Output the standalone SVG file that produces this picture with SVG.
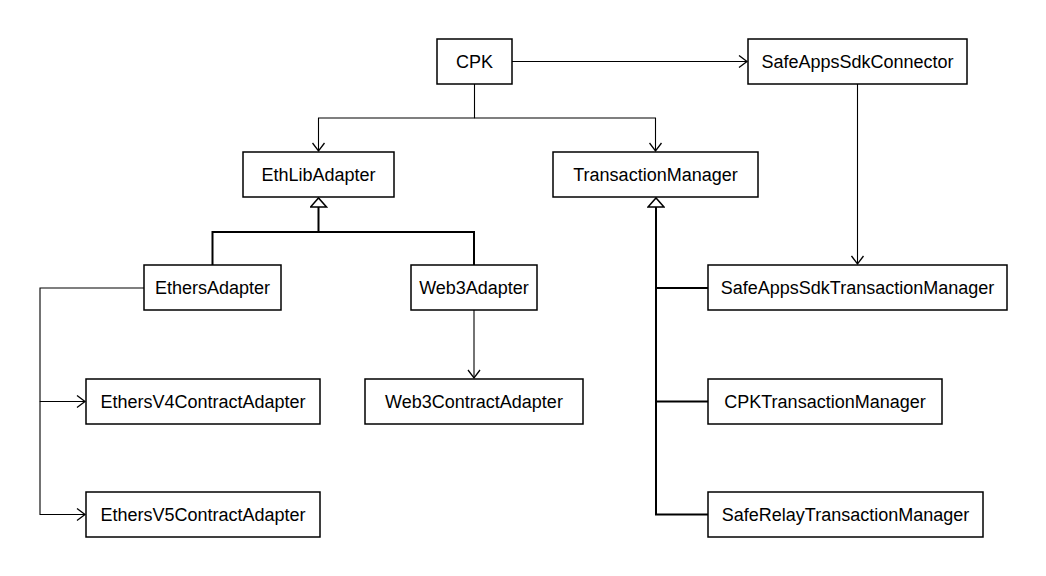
<svg xmlns="http://www.w3.org/2000/svg" width="1046" height="576" viewBox="0 0 1046 576">
<style>
.n rect{fill:#fff;stroke:#000;stroke-width:1.5}
.n text{font-family:"Liberation Sans",Arial,sans-serif;font-size:18px;fill:#000;text-anchor:middle;dominant-baseline:central}
.a{fill:none;stroke:#000;stroke-width:1.1}
.g{fill:none;stroke:#000;stroke-width:2}
</style>
<defs>
<marker id="open" markerWidth="12" markerHeight="14" refX="9" refY="7" orient="auto" markerUnits="userSpaceOnUse"><path d="M1,1 L9,7 L1,13" fill="none" stroke="#000" stroke-width="1.3"/></marker>
<marker id="tri" markerWidth="12" markerHeight="18" refX="10" refY="9" orient="auto" markerUnits="userSpaceOnUse"><path d="M1,1 L10,9 L1,17 Z" fill="#fff" stroke="#000" stroke-width="1.5"/></marker>
</defs>
<rect width="1046" height="576" fill="#fff"/>
<g id="connectors">
<path class="a" d="M512,61.5 H747" marker-end="url(#open)"/>
<path class="a" d="M474.5,84 V118 H318.5 V151" marker-end="url(#open)"/>
<path class="a" d="M474.5,118 H655.5 V151" marker-end="url(#open)"/>
<path class="a" d="M857.5,84 V264" marker-end="url(#open)"/>
<path class="a" d="M474,310 V378" marker-end="url(#open)"/>
<path class="a" d="M144,288 H40 V401.5 H85" marker-end="url(#open)"/>
<path class="a" d="M40,401.5 V514.5 H85" marker-end="url(#open)"/>
<path class="g" d="M212.5,265 V232 H318.5 V198" marker-end="url(#tri)"/>
<path class="g" d="M474,265 V232 H318.5"/>
<path class="g" d="M708,288 H656 V198" marker-end="url(#tri)"/>
<path class="g" d="M708,401.5 H656 V288"/>
<path class="g" d="M708,514.5 H656 V401.5"/>
</g>
<g id="CPK" class="n"><rect x="437" y="39" width="75" height="45"/><text x="474.5" y="61.5">CPK</text></g>
<g id="SafeAppsSdkConnector" class="n"><rect x="748" y="39" width="219" height="45"/><text x="857.5" y="61.5">SafeAppsSdkConnector</text></g>
<g id="EthLibAdapter" class="n"><rect x="243" y="152" width="151" height="45"/><text x="318.5" y="174.5">EthLibAdapter</text></g>
<g id="TransactionManager" class="n"><rect x="553" y="152" width="205" height="45"/><text x="655.5" y="174.5">TransactionManager</text></g>
<g id="EthersAdapter" class="n"><rect x="144" y="265" width="137" height="45"/><text x="212.5" y="287.5">EthersAdapter</text></g>
<g id="Web3Adapter" class="n"><rect x="411" y="265" width="126" height="45"/><text x="474" y="287.5">Web3Adapter</text></g>
<g id="SafeAppsSdkTransactionManager" class="n"><rect x="708" y="265" width="299" height="45"/><text x="857.5" y="287.5">SafeAppsSdkTransactionManager</text></g>
<g id="EthersV4ContractAdapter" class="n"><rect x="86" y="379" width="234" height="45"/><text x="203" y="401.5">EthersV4ContractAdapter</text></g>
<g id="Web3ContractAdapter" class="n"><rect x="365" y="379" width="218" height="45"/><text x="474" y="401.5">Web3ContractAdapter</text></g>
<g id="CPKTransactionManager" class="n"><rect x="708" y="379" width="234" height="45"/><text x="825" y="401.5">CPKTransactionManager</text></g>
<g id="EthersV5ContractAdapter" class="n"><rect x="86" y="492" width="234" height="45"/><text x="203" y="514.5">EthersV5ContractAdapter</text></g>
<g id="SafeRelayTransactionManager" class="n"><rect x="708" y="492" width="275" height="45"/><text x="845.5" y="514.5">SafeRelayTransactionManager</text></g>
</svg>
